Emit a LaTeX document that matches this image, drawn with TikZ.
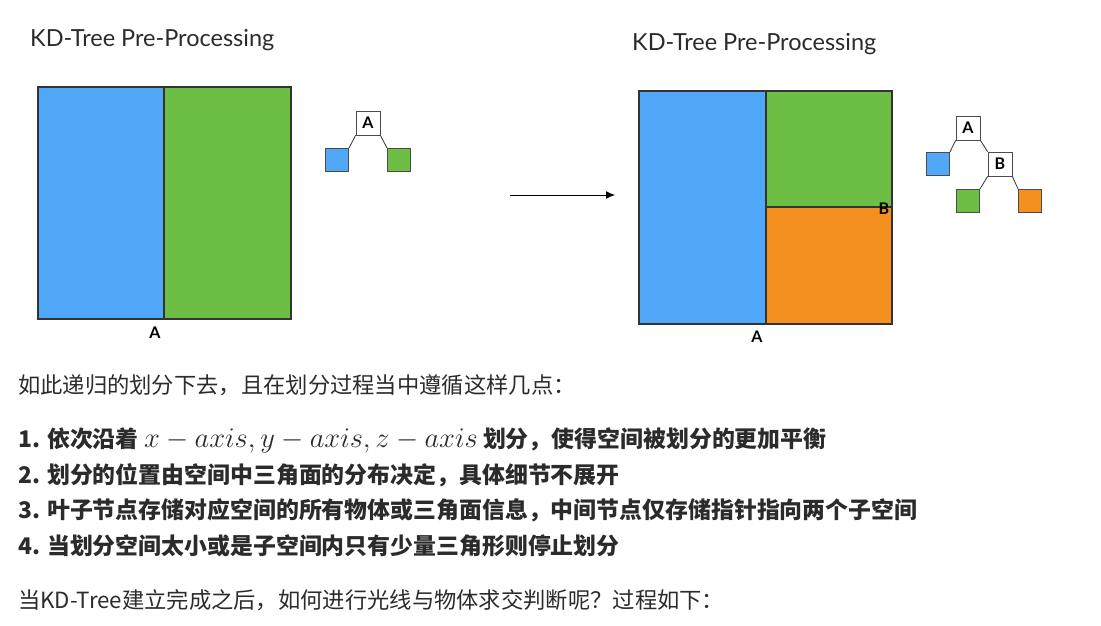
\RequirePackage{fix-cm}
\documentclass[tikz,border=0pt]{standalone}
\usepackage{fontspec}
\setmainfont{Lato}
\newfontfamily\cjk{Noto Sans CJK SC}
\usepackage{xcolor}
\usetikzlibrary{arrows.meta, positioning}

\definecolor{kdblue}{HTML}{52A8F8}
\definecolor{kdgreen}{HTML}{6DBE44}
\definecolor{kdorange}{HTML}{F3901F}
\definecolor{kdline}{HTML}{333333}
\definecolor{kdtext}{HTML}{2B2B2B}

\newcommand{\axismath}[1]{{\fontsize{28.5}{28}\selectfont$#1$}}

\tikzset{
  cell/.style={draw=kdline, line width=1.2pt},
  knode/.style={draw=black!70, fill=white, line width=0.8pt, minimum size=24pt, inner sep=0pt, font=\bfseries\fontsize{16}{16}\selectfont},
  leaf/.style={draw=black!70, line width=0.8pt, minimum size=23pt, inner sep=0pt},
  edge/.style={draw=black!80, line width=0.8pt},
  cut/.style={font=\bfseries\fontsize{16}{16}\selectfont, inner sep=0pt},
  title/.style={anchor=west, inner sep=0pt, text=kdtext, font=\fontsize{23.5}{24}\selectfont},
  para/.style={anchor=west, inner sep=0pt, text=kdtext, font=\cjk\fontsize{22.3}{24}\selectfont},
  item/.style={anchor=west, inner sep=0pt, text=kdtext, font=\cjk\bfseries\fontsize{22.9}{24}\selectfont}
}

\begin{document}
\begin{tikzpicture}[x=1pt, y=-1pt]
  \useasboundingbox (0,0) rectangle (1101,626);
  % ---- left: one split ----
  \node[title] (t1) at (30,40) {KD-Tree Pre-Processing};
  \draw[cell, fill=kdblue]  (38,87) rectangle (164,319);
  \draw[cell, fill=kdgreen] (164,87) rectangle (291,319);
  \node[cut] (a1) at (155,333) {A};
  % tree
  \node[knode] (ta1) at (368,123) {A};
  \node[leaf, fill=kdblue]  (l1) at (337,160) {};
  \node[leaf, fill=kdgreen] (r1) at (399,160) {};
  \draw[edge] (ta1.south west) -- (l1.north east);
  \draw[edge] (ta1.south east) -- (r1.north west);
  % ---- arrow ----
  \coordinate (from) at (510,195);
  \coordinate (to) at (615,195);
  \draw[-{Latex[length=9pt,width=8pt]}, line width=1pt] (from) -- (to);
  % ---- right: two splits ----
  \node[title] (t2) at (632,44) {KD-Tree Pre-Processing};
  \draw[cell, fill=kdblue]   (639,91) rectangle (766,324);
  \draw[cell, fill=kdgreen]  (766,91) rectangle (892,207);
  \draw[cell, fill=kdorange] (766,207) rectangle (892,324);
  \node[cut] (a2) at (757,337) {A};
  \node[cut] (b2) at (884,209) {B};
  % tree
  \node[knode] (ta2) at (968,128) {A};
  \node[leaf, fill=kdblue] (l2) at (938,164) {};
  \node[knode] (tb2) at (1000,164) {B};
  \node[leaf, fill=kdgreen]  (l3) at (968,201) {};
  \node[leaf, fill=kdorange] (r3) at (1030,201) {};
  \draw[edge] (ta2.south west) -- (l2.north east);
  \draw[edge] (ta2.south east) -- (tb2.north west);
  \draw[edge] (tb2.south west) -- (l3.north east);
  \draw[edge] (tb2.south east) -- (r3.north west);
  % ---- text ----
  \node[para] (p1) at (18,385) {如此递归的划分下去，且在划分过程当中遵循这样几点：};
  \node[item] (i1) at (18,440) {1. 依次沿着 \axismath{x-axis,y-axis,z-axis} 划分，使得空间被划分的更加平衡};
  \node[item] (i2) at (18,475) {2. 划分的位置由空间中三角面的分布决定，具体细节不展开};
  \node[item] (i3) at (18,510) {3. 叶子节点存储对应空间的所有物体或三角面信息，中间节点仅存储指针指向两个子空间};
  \node[item] (i4) at (18,546) {4. 当划分空间太小或是子空间内只有少量三角形则停止划分};
  \node[para] (p2) at (18,600) {当KD-Tree建立完成之后，如何进行光线与物体求交判断呢？过程如下：};
\end{tikzpicture}
\end{document}
